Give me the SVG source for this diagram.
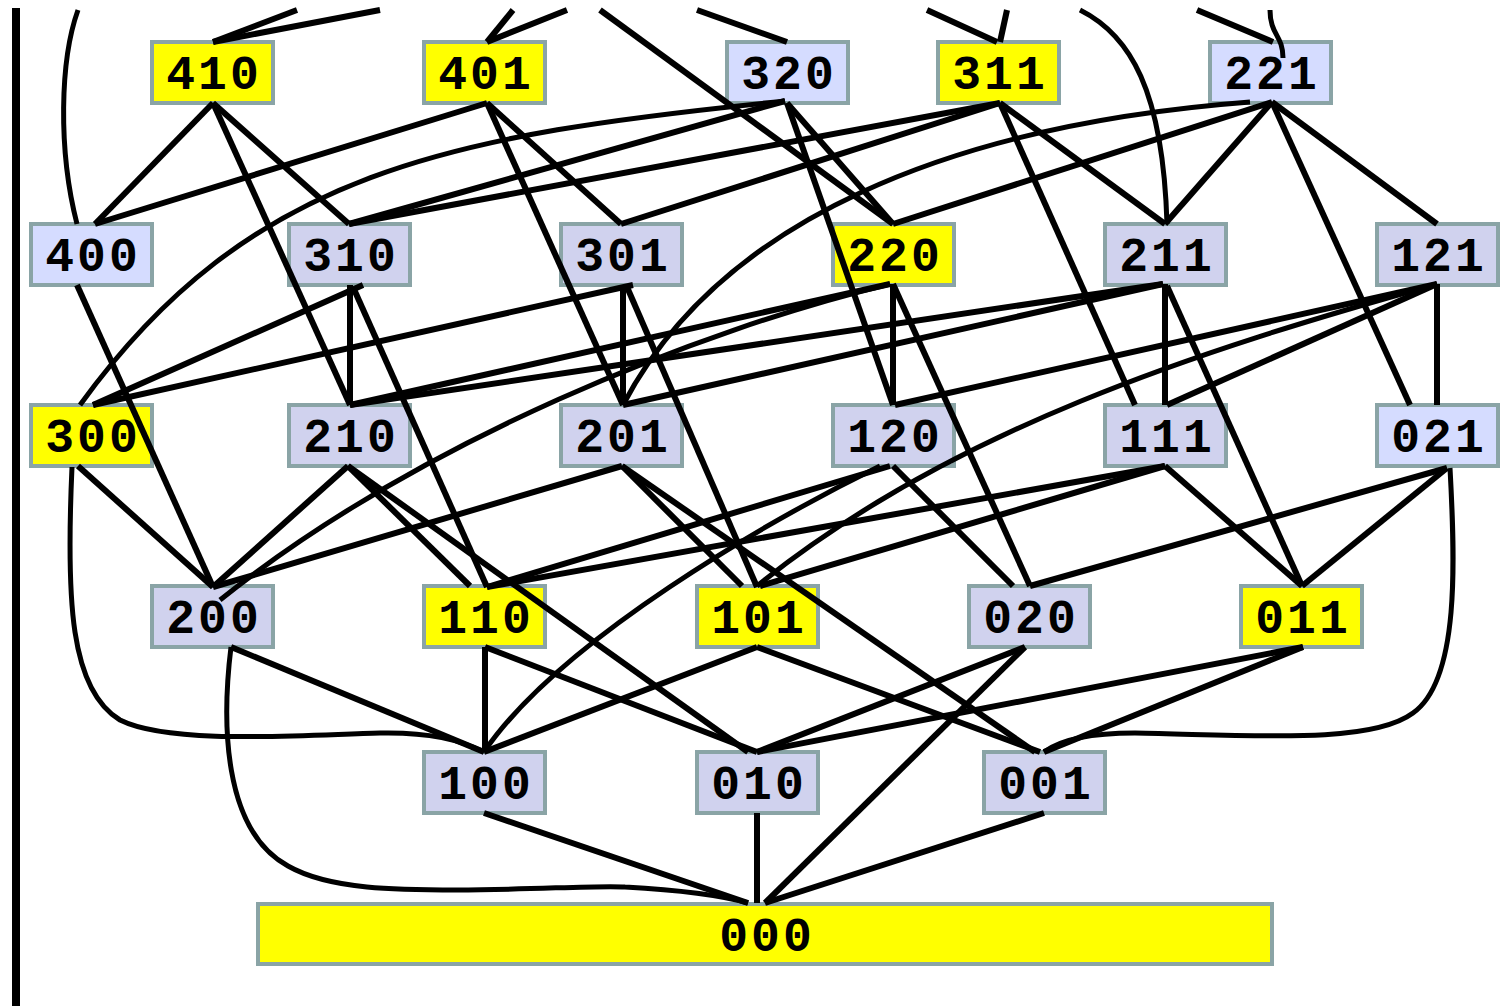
<svg xmlns="http://www.w3.org/2000/svg" width="1501" height="1006" viewBox="0 0 1501 1006">
<style>
.n rect{stroke:#8aa4a6;stroke-width:4}
.y rect{fill:#ffff00}
.l rect{fill:#d5dcff}
.v rect{fill:#d0d2ee}
.n text{font-family:"Liberation Mono","DejaVu Sans Mono",monospace;font-weight:bold;font-size:48px;letter-spacing:3px;text-anchor:middle;fill:#000}
#edges path{fill:none;stroke:#000;stroke-width:6}
#edges path.c{stroke-width:5}
</style>
<rect x="12" y="8" width="8" height="998" fill="#000"/>
<g id="nodes">
<g id="n410" class="n y"><rect x="152" y="42" width="121" height="61"/><text x="214" y="89">410</text></g>
<g id="n401" class="n y"><rect x="424" y="42" width="121" height="61"/><text x="486" y="89">401</text></g>
<g id="n320" class="n l"><rect x="727" y="42" width="121" height="61"/><text x="789" y="89">320</text></g>
<g id="n311" class="n y"><rect x="938" y="42" width="121" height="61"/><text x="1000" y="89">311</text></g>
<g id="n221" class="n l"><rect x="1210" y="42" width="121" height="61"/><text x="1272" y="89">221</text></g>
<g id="n400" class="n l"><rect x="31" y="224" width="121" height="61"/><text x="93" y="271">400</text></g>
<g id="n310" class="n v"><rect x="289" y="224" width="121" height="61"/><text x="351" y="271">310</text></g>
<g id="n301" class="n v"><rect x="561" y="224" width="121" height="61"/><text x="623" y="271">301</text></g>
<g id="n220" class="n y"><rect x="833" y="224" width="121" height="61"/><text x="895" y="271">220</text></g>
<g id="n211" class="n v"><rect x="1105" y="224" width="121" height="61"/><text x="1167" y="271">211</text></g>
<g id="n121" class="n v"><rect x="1377" y="224" width="121" height="61"/><text x="1439" y="271">121</text></g>
<g id="n300" class="n y"><rect x="31" y="405" width="121" height="61"/><text x="93" y="452">300</text></g>
<g id="n210" class="n v"><rect x="289" y="405" width="121" height="61"/><text x="351" y="452">210</text></g>
<g id="n201" class="n v"><rect x="561" y="405" width="121" height="61"/><text x="623" y="452">201</text></g>
<g id="n120" class="n v"><rect x="833" y="405" width="121" height="61"/><text x="895" y="452">120</text></g>
<g id="n111" class="n v"><rect x="1105" y="405" width="121" height="61"/><text x="1167" y="452">111</text></g>
<g id="n021" class="n l"><rect x="1377" y="405" width="121" height="61"/><text x="1439" y="452">021</text></g>
<g id="n200" class="n v"><rect x="152" y="586" width="121" height="61"/><text x="214" y="633">200</text></g>
<g id="n110" class="n y"><rect x="424" y="586" width="121" height="61"/><text x="486" y="633">110</text></g>
<g id="n101" class="n y"><rect x="697" y="586" width="121" height="61"/><text x="759" y="633">101</text></g>
<g id="n020" class="n v"><rect x="969" y="586" width="121" height="61"/><text x="1031" y="633">020</text></g>
<g id="n011" class="n y"><rect x="1241" y="586" width="121" height="61"/><text x="1303" y="633">011</text></g>
<g id="n100" class="n v"><rect x="424" y="752" width="121" height="61"/><text x="486" y="799">100</text></g>
<g id="n010" class="n v"><rect x="697" y="752" width="121" height="61"/><text x="759" y="799">010</text></g>
<g id="n001" class="n v"><rect x="984" y="752" width="121" height="61"/><text x="1046" y="799">001</text></g>
<g id="n000" class="n y"><rect x="258" y="904" width="1014" height="60"/><text x="767" y="951">000</text></g>
</g>
<g id="edges">
<path class="c" d="M78,10 C60,60 58,150 77,224"/>
<path d="M297,10 L213,42"/>
<path d="M380,10 L213,42"/>
<path d="M513,10 L487,42"/>
<path d="M567,10 L487,42"/>
<path d="M600,10 L893,224"/>
<path d="M697,10 L787,42"/>
<path d="M927,10 L997,42"/>
<path d="M1007,10 L1000,42"/>
<path class="c" d="M1080,10 C1130,35 1163,90 1167,224"/>
<path d="M1197,10 L1273,42"/>
<path class="c" d="M1270,10 C1270,35 1283,35 1283,58"/>
<path d="M213,103 L95,224"/>
<path d="M213,103 L349,224"/>
<path d="M213,103 L350,405"/>
<path d="M487,103 L95,224"/>
<path d="M487,103 L621,224"/>
<path d="M487,103 L623,405"/>
<path d="M785,101 L349,224"/>
<path class="c" d="M785,101 C450,135 250,170 80,405"/>
<path d="M787,103 L893,224"/>
<path d="M787,103 L893,405"/>
<path d="M1000,103 L349,224"/>
<path d="M1000,103 L621,224"/>
<path d="M1000,103 L1165,224"/>
<path d="M1000,103 L1135,405"/>
<path class="c" d="M1250,102 C950,125 720,220 623,405"/>
<path d="M1272,102 L893,224"/>
<path d="M1272,102 L1165,224"/>
<path d="M1272,102 L1437,224"/>
<path d="M1272,102 L1410,405"/>
<path d="M77,285 L213,587"/>
<path d="M363,285 L93,405"/>
<path d="M350,285 L350,405"/>
<path d="M353,287 L487,587"/>
<path d="M633,285 L93,405"/>
<path d="M623,285 L623,405"/>
<path d="M627,287 L757,587"/>
<path d="M890,284 L350,405"/>
<path class="c" d="M890,284 C700,330 420,440 220,600"/>
<path d="M893,284 L893,405"/>
<path d="M893,284 L1030,586"/>
<path d="M1163,284 L350,405"/>
<path d="M1163,284 L623,405"/>
<path d="M1165,284 L1165,405"/>
<path d="M1167,286 L1302,586"/>
<path d="M1437,284 L895,405"/>
<path d="M1437,284 L1167,405"/>
<path class="c" d="M1437,284 C1200,350 950,430 757,586"/>
<path d="M1437,284 L1437,405"/>
<path d="M78,466 L213,587"/>
<path class="c" d="M72,467 C66,600 70,690 120,720 C170,745 300,735 380,733 C430,732 460,740 484,752"/>
<path d="M348,466 L213,587"/>
<path d="M348,466 L470,586"/>
<path d="M348,466 L748,752"/>
<path d="M622,466 L213,587"/>
<path d="M622,466 L742,586"/>
<path d="M622,466 L1035,752"/>
<path d="M890,466 L487,587"/>
<path class="c" d="M880,466 C770,520 560,640 484,752"/>
<path d="M893,466 L1013,586"/>
<path d="M1165,466 L487,587"/>
<path d="M1165,466 L760,586"/>
<path d="M1165,466 L1302,586"/>
<path d="M1447,468 L1030,586"/>
<path d="M1447,468 L1302,586"/>
<path class="c" d="M1450,468 C1455,560 1460,680 1413,713 C1370,745 1250,735 1135,733 C1090,733 1060,740 1044,752"/>
<path d="M231,647 L484,752"/>
<path class="c" d="M231,647 C222,720 222,830 288,866 C330,890 400,890 457,890 C530,890 600,885 625,887 C680,890 720,895 748,903"/>
<path d="M485,647 L485,752"/>
<path d="M485,647 L757,752"/>
<path d="M757,647 L484,752"/>
<path d="M757,647 L1040,752"/>
<path d="M1025,647 L757,752"/>
<path d="M1025,647 L765,903"/>
<path d="M1303,647 L757,752"/>
<path d="M1303,647 L1044,752"/>
<path d="M484,813 L748,903"/>
<path d="M757,813 L757,903"/>
<path d="M1044,813 L765,903"/>
</g>
</svg>
